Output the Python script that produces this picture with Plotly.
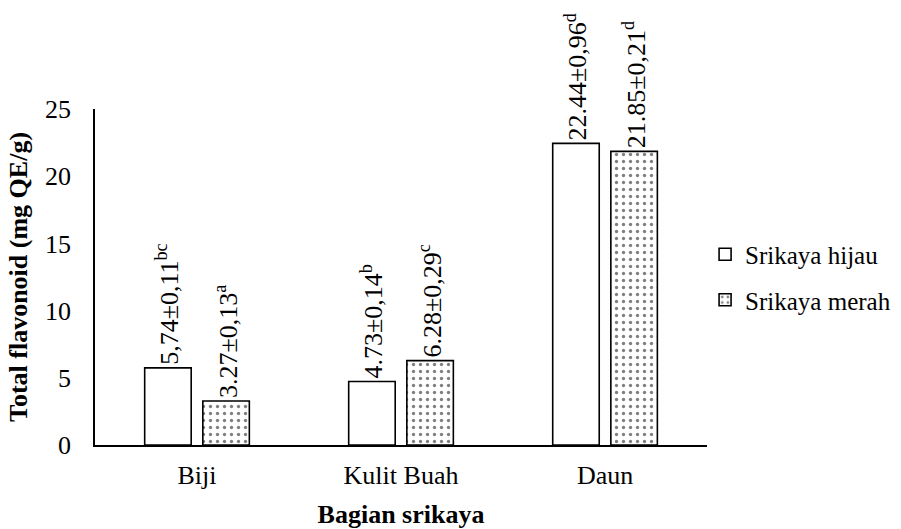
import plotly.graph_objects as go

categories = ["Biji", "Kulit Buah", "Daun"]
hijau_values = [5.74, 4.73, 22.44]
merah_values = [3.27, 6.28, 21.85]
hijau_labels = ["5,74±0,11<sup>bc</sup>", "4.73±0,14<sup>b</sup>", "22.44±0,96<sup>d</sup>"]
merah_labels = ["3.27±0,13<sup>a</sup>", "6.28±0,29<sup>c</sup>", "21.85±0,21<sup>d</sup>"]
series_names = ["Srikaya hijau", "Srikaya merah"]
y_ticks = [0, 5, 10, 15, 20, 25]

FONT = "Liberation Serif"
FS = 26

fig = go.Figure()
fig.add_trace(go.Bar(
    x=categories, y=hijau_values, name=series_names[0], legendgroup="a",
    text=hijau_labels, textposition="outside", textangle=-90,
    constraintext="none", cliponaxis=False,
    textfont=dict(family=FONT, size=FS, color="black"),
    marker=dict(color="white", line=dict(color="black", width=1.6)),
))
fig.add_trace(go.Bar(
    x=categories, y=merah_values, name=series_names[1], legendgroup="b",
    text=merah_labels, textposition="outside", textangle=-90,
    constraintext="none", cliponaxis=False,
    textfont=dict(family=FONT, size=FS, color="black"),
    marker=dict(color="white", line=dict(color="black", width=1.6),
                pattern=dict(shape=".", fgcolor="black", bgcolor="white",
                             size=7, solidity=0.18)),
))

# paper area: 95 .. 751 px ; plot right edge at 707 px
fig.update_layout(
    width=901, height=529,
    margin=dict(l=95, r=150, t=109, b=84, autoexpand=False),
    plot_bgcolor="white", paper_bgcolor="white",
    font=dict(family=FONT, size=FS, color="black"),
    barmode="group", bargap=0.43, bargroupgap=0.2,
    showlegend=True,
    legend=dict(x=0.93, y=0.5, xanchor="left", yanchor="middle",
                font=dict(family=FONT, size=25, color="black"),
                tracegroupgap=10, itemwidth=30),
    xaxis=dict(domain=[0, 0.933], automargin=False,
               showline=True, linecolor="black", linewidth=1.5,
               ticks="", showgrid=False, ticklabelstandoff=6,
               tickfont=dict(family=FONT, size=FS),
               title=dict(text="<b>Bagian srikaya</b>", standoff=16,
                          font=dict(family=FONT, size=FS))),
    yaxis=dict(range=[0, 25], tickvals=y_ticks, automargin=False,
               showline=True, linecolor="black", linewidth=1.5, ticks="",
               showgrid=False, zeroline=False, ticklabelstandoff=17,
               tickfont=dict(family=FONT, size=FS),
               title=dict(text="<b>Total flavonoid (mg QE/g)</b>", standoff=10,
                          font=dict(family=FONT, size=FS))),
)

fig.write_html("out.html", config={"displayModeBar": False},
               post_script="document.body.style.margin='0';")
